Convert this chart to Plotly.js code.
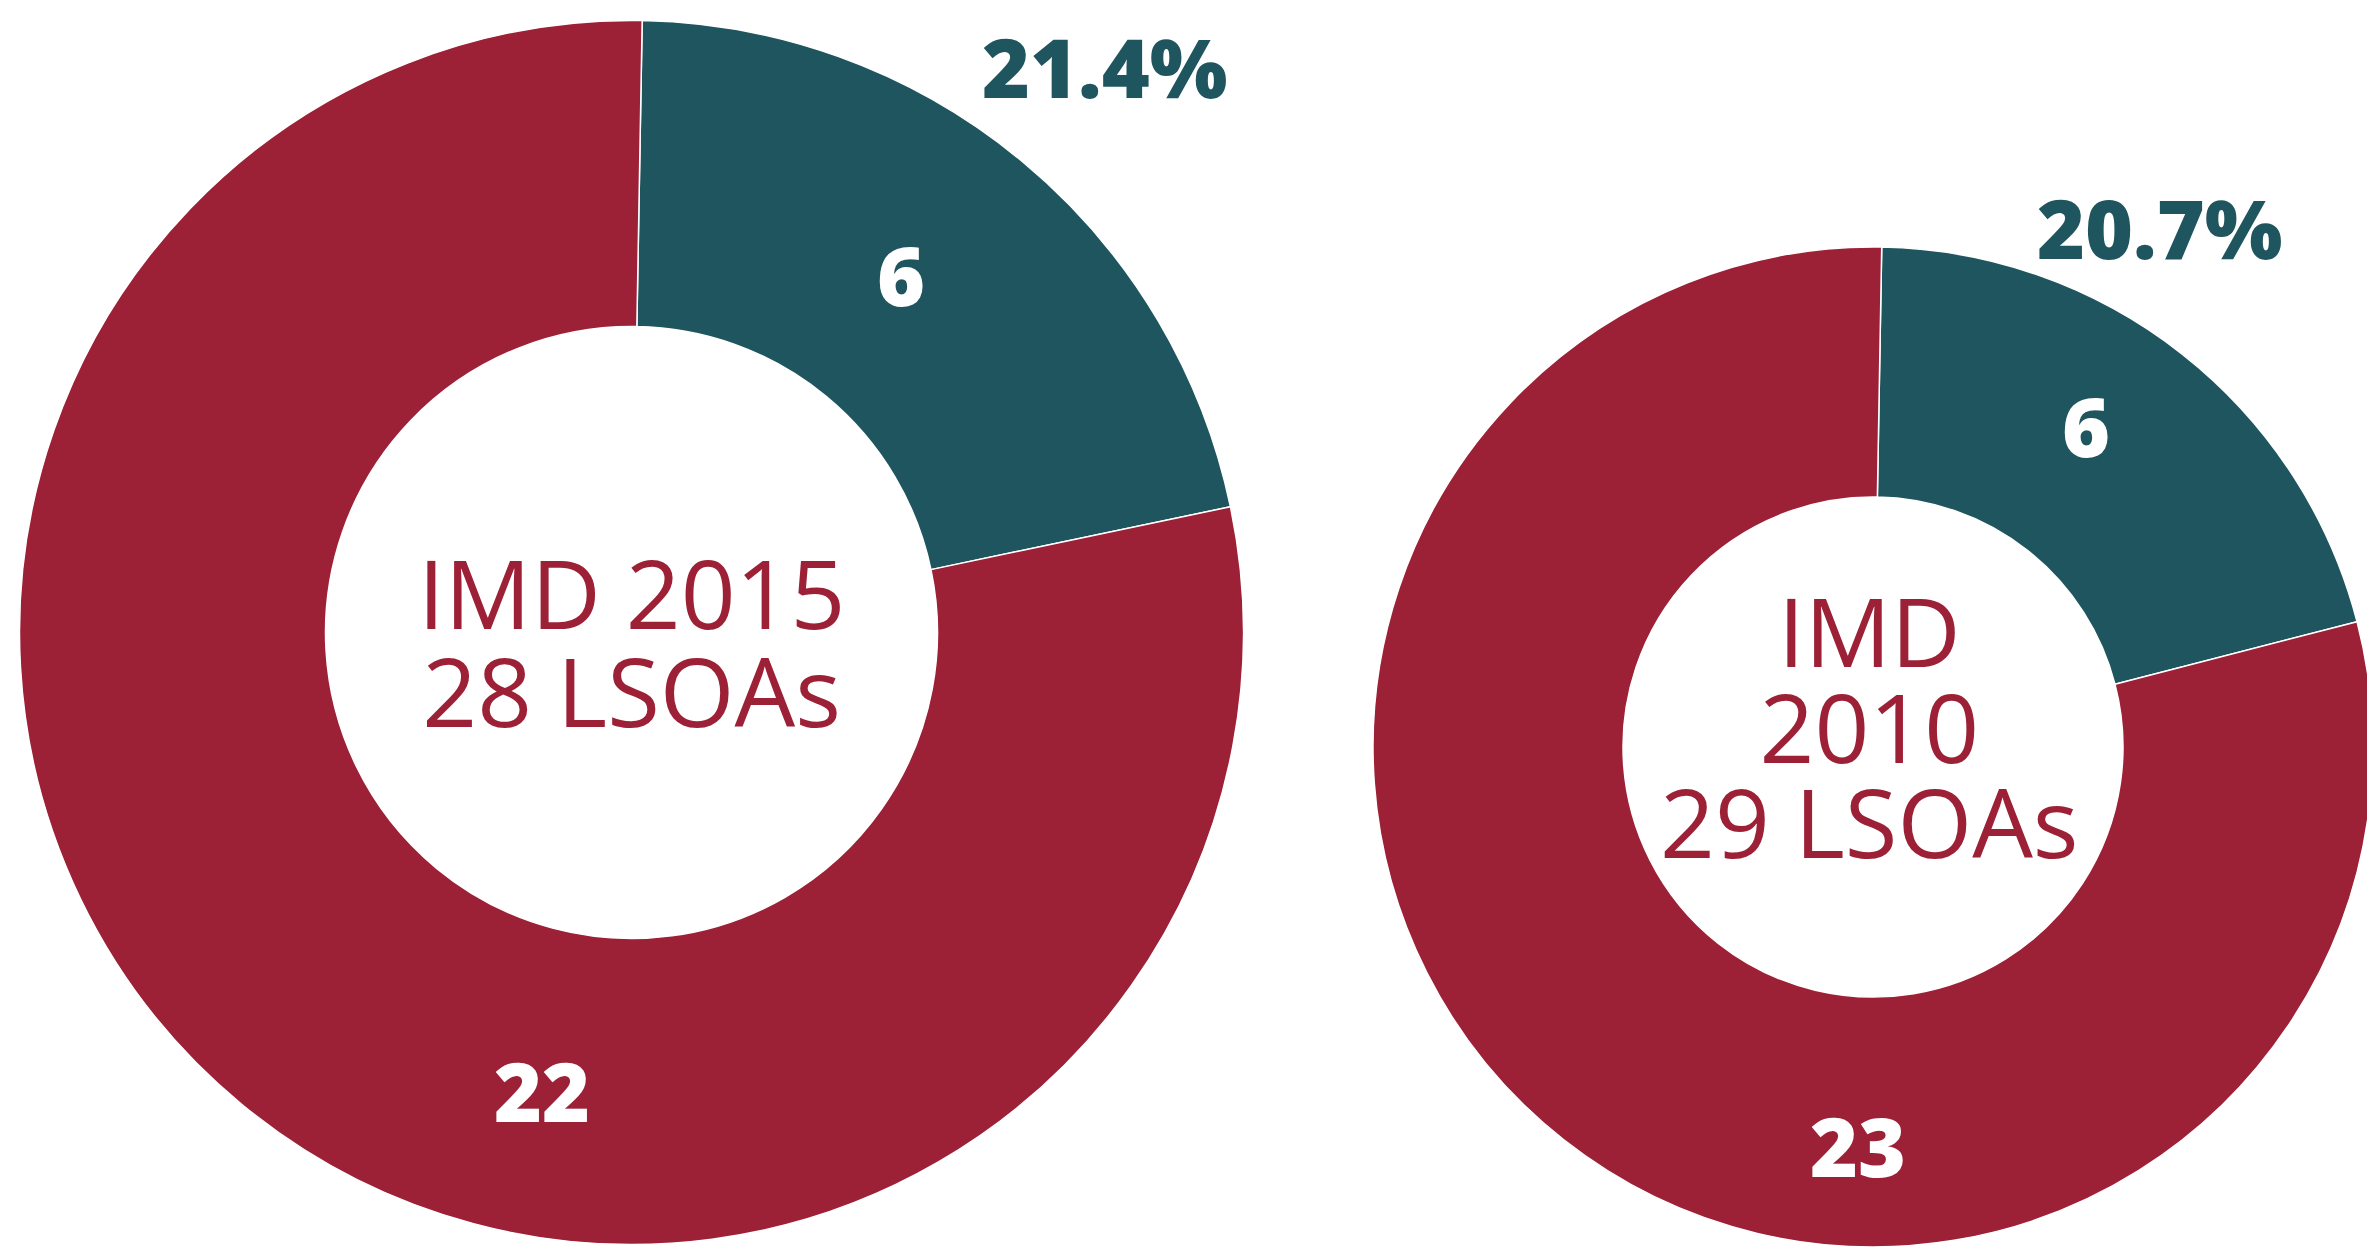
<!DOCTYPE html>
<html>
<head>
<meta charset="utf-8">
<script src="https://cdn.plot.ly/plotly-3.0.1.min.js"></script>
<style>
html, body { margin: 0; padding: 0; overflow: hidden; background: #ffffff; }
#chart { width: 2380px; height: 1250px; }
</style>
</head>
<body>
<div id="chart"></div>
<script>
// ---- data ----
const sliceLabels = ['Highlighted LSOAs', 'Other LSOAs'];
const values2015 = [6, 22];
const values2010 = [6, 23];
const centerLines2015 = ['IMD 2015', '28 LSOAs'];
const centerLines2010 = ['IMD', '2010', '29 LSOAs'];

// ---- styles / layout ----
const W = 2380, H = 1250;
const RED = '#9d2136', TEAL = '#1f555e';
const px = x => x / W;
const py = y => 1 - y / H;

function pieTrace(values, cx, cy, r) {
  return {
    type: 'pie',
    labels: sliceLabels,
    values: values,
    sort: false,
    direction: 'clockwise',
    rotation: 1,
    hole: 0.5,
    textinfo: 'none',
    hoverinfo: 'none',
    showlegend: false,
    marker: { colors: [TEAL, RED], line: { color: '#ffffff', width: 1.5 } },
    domain: { x: [px(cx - r), px(cx + r)], y: [py(cy + r), py(cy - r)] }
  };
}

const FAMILY = 'Open Sans, Lato, sans-serif';
const boldFont = (c) => ({ family: FAMILY, size: 82, color: c, weight: 800 });
// line spacing in plotly = 1.3 x the annotation font size; glyph size set via span
const centerFont = (lineSize) => ({ family: FAMILY, size: lineSize, color: RED, weight: 400 });
const GLYPH = 96;

function ann(text, x, y, font) {
  return { text: text, x: px(x), y: py(y), xref: 'paper', yref: 'paper',
           xanchor: 'center', yanchor: 'middle', showarrow: false, font: font };
}
const pct = v => (v[0] / (v[0] + v[1]) * 100).toFixed(1) + '%';
const centerText = lines => lines.map(l => '<span style="font-size:' + GLYPH + 'px">' + l + '</span>').join('<br>');

const annotations = [
  ann(String(values2015[0]), 901, 274, boldFont('#ffffff')),
  ann(String(values2015[1]), 542, 1090, boldFont('#ffffff')),
  ann(pct(values2015), 1105, 66, boldFont(TEAL)),
  ann(String(values2010[0]), 2086, 425, boldFont('#ffffff')),
  ann(String(values2010[1]), 1858, 1145, boldFont('#ffffff')),
  ann(pct(values2010), 2160, 227, boldFont(TEAL)),
  ann(centerText(centerLines2015), 631, 640, centerFont(75)),
  ann(centerText(centerLines2010), 1869, 725, centerFont(73.5))
];

const data = [
  pieTrace(values2015, 631.5, 632.5, 612),
  pieTrace(values2010, 1873, 747, 500)
];

const layout = {
  width: W, height: H,
  margin: { l: 0, r: 0, t: 0, b: 0, pad: 0 },
  paper_bgcolor: '#ffffff',
  plot_bgcolor: '#ffffff',
  showlegend: false,
  annotations: annotations
};

Plotly.newPlot('chart', data, layout, { displayModeBar: false, staticPlot: true });
</script>
</body>
</html>
